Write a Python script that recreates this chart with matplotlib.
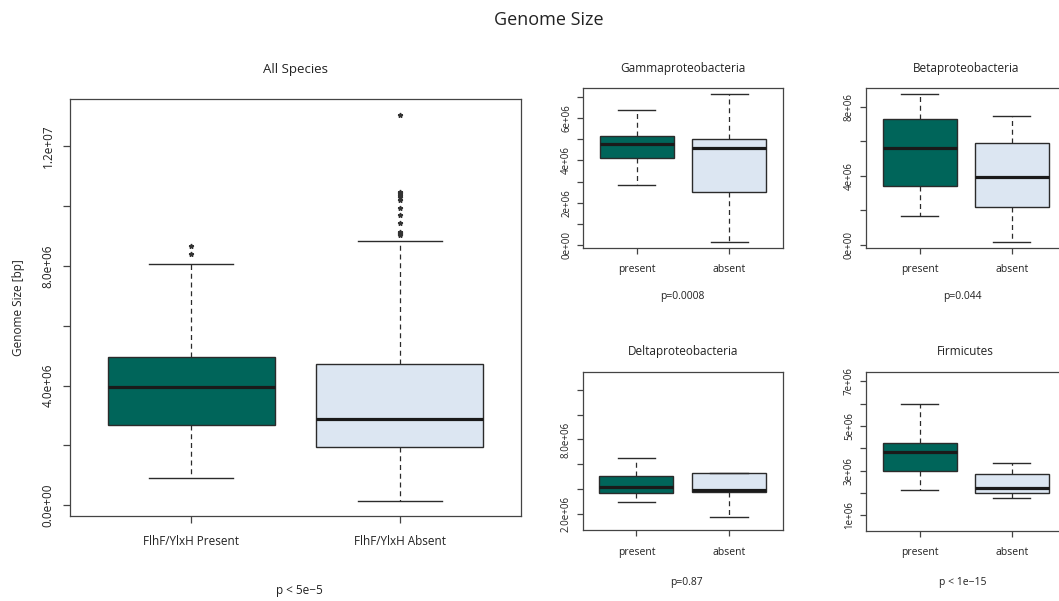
import numpy as np
import matplotlib
matplotlib.use("Agg")
import matplotlib.pyplot as plt

plt.rcParams['font.family'] = ['Open Sans', 'DejaVu Sans']

GREEN = "#00655a"
LIGHT = "#dce6f2"
EDGE = "#2b2b2b"
AXC = "#444444"

# values, in bp (q1, median, q3, whisker low, whisker high)
all_labels = ["FlhF/YlxH Present", "FlhF/YlxH Absent"]
all_q1 = [2.68e6, 1.96e6]
all_med = [3.95e6, 2.87e6]
all_q3 = [4.96e6, 4.71e6]
all_lo = [0.92e6, 0.13e6]
all_hi = [8.06e6, 8.84e6]
all_fliers = [
    [8.39e6, 8.66e6],
    [9.02e6, 9.06e6, 9.10e6, 9.14e6, 9.44e6, 9.69e6, 9.94e6, 10.19e6,
     10.30e6, 10.36e6, 10.42e6, 10.47e6, 13.03e6],
]

sub_labels = ["present", "absent"]
panels = {
    "Gammaproteobacteria": dict(q1=[4.12e6, 2.49e6], med=[4.75e6, 4.58e6], q3=[5.16e6, 5.01e6],
                                lo=[2.82e6, 0.16e6], hi=[6.37e6, 7.12e6], p="p=0.0008"),
    "Betaproteobacteria": dict(q1=[3.42e6, 2.19e6], med=[5.59e6, 3.90e6], q3=[7.26e6, 5.92e6],
                               lo=[1.65e6, 0.17e6], hi=[8.72e6, 7.44e6], p="p=0.044"),
    "Deltaproteobacteria": dict(q1=[3.64e6, 3.73e6], med=[4.16e6, 3.91e6], q3=[5.05e6, 5.26e6],
                                lo=[2.92e6, 1.70e6], hi=[6.53e6, 5.32e6], p="p=0.87"),
    "Firmicutes": dict(q1=[2.96e6, 1.99e6], med=[3.84e6, 2.21e6], q3=[4.24e6, 2.87e6],
                       lo=[2.15e6, 1.78e6], hi=[6.00e6, 3.36e6], p="p < 1e\u221215"),
}

# axis layouts: (ylim, tick values, tick label texts)
main_ticks = [0, 2e6, 4e6, 6e6, 8e6, 10e6, 12e6]
main_ticklabels = ["0.0e+00", "", "4.0e+06", "", "8.0e+06", "", "1.2e+07"]
panel_axes = {
    "Gammaproteobacteria": ((-0.12e6, 7.40e6), [0, 1e6, 2e6, 3e6, 4e6, 5e6, 6e6, 7e6],
                            ["0e+00", "", "2e+06", "", "4e+06", "", "6e+06", ""]),
    "Betaproteobacteria": ((-0.17e6, 9.06e6), [0, 2e6, 4e6, 6e6, 8e6],
                           ["0e+00", "", "4e+06", "", "8e+06"]),
    "Deltaproteobacteria": ((0.68e6, 13.48e6), [2e6, 4e6, 6e6, 8e6, 10e6, 12e6],
                            ["2.0e+06", "", "", "8.0e+06", "", ""]),
    "Firmicutes": ((0.31e6, 7.43e6), [1e6, 2e6, 3e6, 4e6, 5e6, 6e6, 7e6],
                   ["1e+06", "", "3e+06", "", "5e+06", "", "7e+06"]),
}


def draw_box(ax, labels, q1, med, q3, lo, hi, fliers=None, fs=8, msize=3.5):
    stats = []
    for i in range(len(labels)):
        stats.append(dict(label=labels[i], q1=q1[i], med=med[i], q3=q3[i],
                          whislo=lo[i], whishi=hi[i],
                          fliers=fliers[i] if fliers else []))
    res = ax.bxp(stats, positions=[1, 2], widths=0.8, patch_artist=True,
                 showfliers=True,
                 boxprops=dict(edgecolor=EDGE, linewidth=1.0),
                 medianprops=dict(color="#1a1a1a", linewidth=2.3, solid_capstyle="butt"),
                 whiskerprops=dict(color=EDGE, linewidth=0.9, linestyle=(0, (4, 3))),
                 capprops=dict(color=EDGE, linewidth=1.0),
                 capwidths=0.4,
                 flierprops=dict(marker="*", markersize=msize, markerfacecolor="#333333",
                                 markeredgecolor="#333333", linestyle="none"))
    for patch, c in zip(res["boxes"], [GREEN, LIGHT]):
        patch.set_facecolor(c)
    ax.set_xlim(0.42, 2.58)
    for s in ax.spines.values():
        s.set_color(AXC)
        s.set_linewidth(0.9)
    ax.tick_params(axis="both", colors=AXC, direction="out", length=5, width=0.9,
                   labelcolor="#222222")
    ax.tick_params(axis="x", labelsize=fs)
    return res


fig = plt.figure(figsize=(10.59, 6.01), dpi=100)
fig.text(0.518, 0.966, "Genome Size", ha="center", va="center", fontsize=13, color="#222222")

# main panel
ax = fig.add_axes([0.0661, 0.1414, 0.4259, 0.6939])
draw_box(ax, all_labels, all_q1, all_med, all_q3, all_lo, all_hi, all_fliers, fs=8.5)
ax.set_ylim(-0.357e6, 13.57e6)
ax.set_yticks(main_ticks)
ax.set_yticklabels(main_ticklabels, rotation=90, va="center", fontsize=8.5)
ax.tick_params(axis="y", pad=6)
ax.tick_params(axis="x", pad=9)
ax.set_title("All Species", fontsize=9.5, color="#222222", pad=19)
ax.set_ylabel("Genome Size [bp]", fontsize=8.5, color="#222222", labelpad=12)
fig.text(0.283, 0.018, "p < 5e\u22125", ha="center", va="center", fontsize=8.5, color="#222222")

rects = {
    "Gammaproteobacteria": [0.5508, 0.5879, 0.1883, 0.2652],
    "Betaproteobacteria": [0.8178, 0.5879, 0.1883, 0.2652],
    "Deltaproteobacteria": [0.5502, 0.1181, 0.1889, 0.2634],
    "Firmicutes": [0.8178, 0.1170, 0.1883, 0.2646],
}
p_y = {"Gammaproteobacteria": 0.507, "Betaproteobacteria": 0.507,
       "Deltaproteobacteria": 0.030, "Firmicutes": 0.030}
p_x = {"Gammaproteobacteria": 0.644, "Betaproteobacteria": 0.909,
       "Deltaproteobacteria": 0.648, "Firmicutes": 0.909}

for name, d in panels.items():
    a = fig.add_axes(rects[name])
    draw_box(a, sub_labels, d["q1"], d["med"], d["q3"], d["lo"], d["hi"], fs=7.5)
    ylim, ticks, tlabels = panel_axes[name]
    a.set_ylim(*ylim)
    a.set_yticks(ticks)
    a.set_yticklabels(tlabels, rotation=90, va="center", fontsize=7)
    a.tick_params(axis="y", pad=4, length=4)
    a.tick_params(axis="x", pad=8, length=4)
    a.set_title(name, fontsize=8.5, color="#222222", pad=12)
    fig.text(p_x[name], p_y[name], d["p"], ha="center", va="center", fontsize=7.5,
             color="#222222")

fig.savefig("out.png", dpi=100)
